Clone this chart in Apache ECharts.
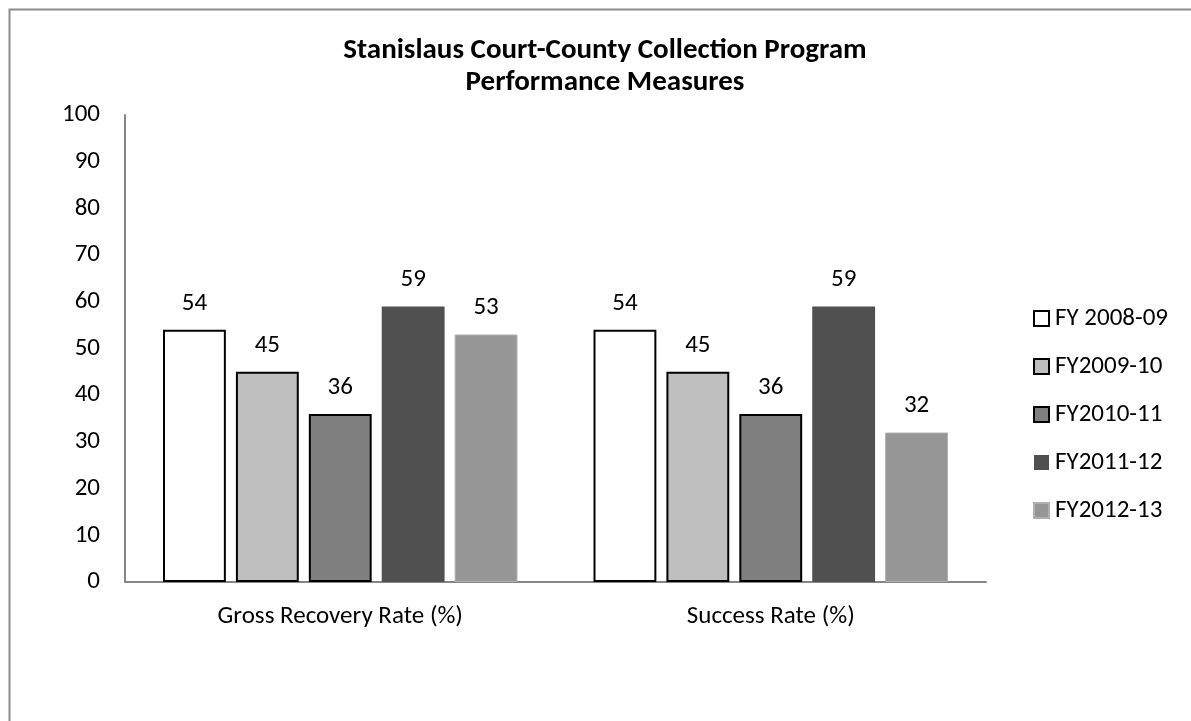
<!DOCTYPE html>
<html><head><meta charset="utf-8">
<script src="https://cdn.jsdelivr.net/npm/echarts@6/dist/echarts.min.js"></script>
<style>html,body{margin:0;padding:0;background:#fff;}#c{width:1191px;height:721px;}</style>
</head><body><div id="c"></div>
<script>
const categories = ['Gross Recovery Rate (%)', 'Success Rate (%)'];
const seriesNames = ['FY 2008-09', 'FY2009-10', 'FY2010-11', 'FY2011-12', 'FY2012-13'];
const fy0809 = [54, 54];
const fy0910 = [45, 45];
const fy1011 = [36, 36];
const fy1112 = [59, 59];
const fy1213 = [53, 32];
const yTicks = [0, 10, 20, 30, 40, 50, 60, 70, 80, 90, 100];

const values = [fy0809, fy0910, fy1011, fy1112, fy1213];
const fills = ['#ffffff', '#bfbfbf', '#7f7f7f', '#505050', '#969696'];
const borders = ['#000000', '#000000', '#000000', '#505050', '#b0b0b0'];
const borderW = [2, 2, 2, 0, 1];
const font = 'Carlito, Open Sans, Noto Sans, sans-serif';

const chart = echarts.init(document.getElementById('c'), null, {renderer: 'canvas'});
chart.setOption({
  backgroundColor: '#fff',
  animation: false,
  graphic: [{
    type: 'rect', left: 7, top: 7, z: -1,
    shape: {x: 0, y: 0, width: 1250, height: 780},
    style: {fill: 'none', stroke: '#8c8c8c', lineWidth: 2}
  }],
  title: {
    text: 'Stanislaus Court-County Collection Program\nPerformance Measures',
    left: 600, textAlign: 'center', top: 30,
    textStyle: {fontFamily: font, fontWeight: 'bold', fontSize: 29, lineHeight: 32, color: '#000'}
  },
  legend: {
    orient: 'vertical', left: 1028, top: 301,
    itemWidth: 15, itemHeight: 15, itemGap: 23,
    icon: 'rect',
    textStyle: {fontFamily: font, fontSize: 25, color: '#000', padding: [0, 0, 0, 1]},
    data: seriesNames
  },
  grid: {left: 125, right: 205, top: 115, bottom: 139, containLabel: false},
  xAxis: {
    type: 'category', data: categories,
    axisLine: {lineStyle: {color: '#868686', width: 2}},
    axisTick: {show: false},
    axisLabel: {fontFamily: font, fontSize: 25, color: '#000', margin: 22}
  },
  yAxis: {
    type: 'value', min: yTicks[0], max: yTicks[yTicks.length - 1], interval: 10,
    axisLine: {show: true, lineStyle: {color: '#868686', width: 2}},
    axisTick: {show: false},
    splitLine: {show: false},
    axisLabel: {fontFamily: font, fontSize: 25, color: '#000', margin: 25}
  },
  series: seriesNames.map((n, i) => ({
    name: n, type: 'bar', data: values[i],
    barWidth: '14.6%', barGap: '16%',
    itemStyle: {color: fills[i], borderColor: borders[i], borderWidth: borderW[i]},
    label: {show: true, position: 'top', distance: 14, fontFamily: font, fontSize: 25, color: '#000'}
  }))
});
</script></body></html>
